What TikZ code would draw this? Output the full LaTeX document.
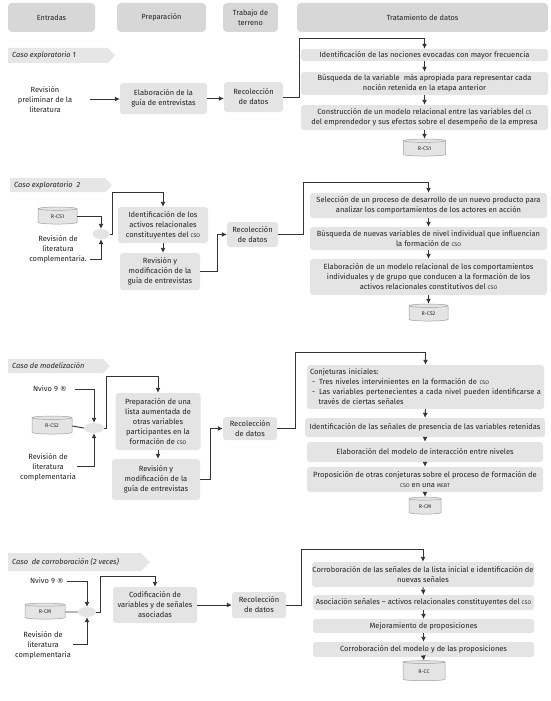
\documentclass[tikz,border=0pt]{standalone}
\usepackage{fontspec}
\setmainfont{Fira Sans}
\newfontfamily\dejavu{DejaVu Sans}
\usetikzlibrary{arrows.meta,shapes.geometric}
\definecolor{boxg}{HTML}{E4E4E4}
\definecolor{hdrg}{HTML}{D7D7D7}
\definecolor{bang}{HTML}{E6E6E6}
\definecolor{txt}{HTML}{222222}
\definecolor{lin}{HTML}{333333}
\definecolor{dbline}{HTML}{A0A0A0}
\newcommand\smc[1]{{\fontsize{5.3}{6}\selectfont\MakeUppercase{#1}}}
\newcommand\regmark{{\dejavu\fontsize{7}{7}\selectfont ®}}
\begin{document}
\begin{tikzpicture}[x=1pt,y=-1pt,
 every node/.style={text=txt, font=\fontsize{7.5}{10}\selectfont},
 sz/.style 2 args={minimum width=#1pt, minimum height=#2pt},
 box/.style={fill=boxg, rounded corners=3pt, align=center, inner sep=0pt},
 hdr/.style={fill=hdrg, rounded corners=4pt, align=center, inner sep=0pt, minimum height=29pt, font=\fontsize{7.4}{9.5}\selectfont},
 lbl/.style={align=center, inner sep=0pt},
 junc/.style={ellipse, fill=boxg, inner sep=0pt, minimum height=10pt},
 db/.style={cylinder, shape border rotate=90, aspect=0.25, draw=dbline, line width=0.5pt, fill=boxg, inner sep=0pt},
 con/.style={draw=lin, line width=0.9pt, -{Latex[length=5pt,width=5pt]}},
 ln/.style={draw=lin, line width=0.9pt},
 bantext/.style={font=\fontsize{7.4}{9}\selectfont\itshape, anchor=west, inner sep=0pt}
]
\useasboundingbox[fill=white] (0,0) rectangle (551,701);

% headers
\node[hdr, minimum width=87pt] (hE) at (51.5,17.5) {Entradas};
\node[hdr, minimum width=89pt] (hP) at (161.5,17.5) {Preparación};
\node[hdr, minimum width=55pt] (hT) at (250.5,17.5) {Trabajo de\\terreno};
\node[hdr, minimum width=251pt] (hD) at (422.5,17.5) {Tratamiento de datos};

% ---------- row 1
\fill[bang] (8,48) -- (108,48) -- (115,55.5) -- (108,63) -- (8,63) -- cycle;
\node[bantext] (b1) at (12,55.5) {Caso exploratorio 1};
\node[lbl] (in1) at (45,100) {Revisión\\preliminar de la\\literatura};
\coordinate (c1) at (90,99);
\node[box, sz={87}{31}] (el1) at (163.5,98.5) {Elaboración de la\\guía de entrevistas};
\node[box, sz={59}{30}] (rc1) at (253.5,97) {Recolección\\de datos};
\node[box, sz={247}{12}] (t11) at (424.5,55) {Identificación de las nociones evocadas con mayor frecuencia};
\node[box, sz={247}{23}] (t12) at (424.5,83.5) {Búsqueda de la variable\ \ más apropiada para representar cada\\noción retenida en la etapa anterior};
\node[box, sz={247}{25}] (t13) at (424.5,117.5) {Construcción de un modelo relacional entre las variables del \smc{cs}\\del emprendedor y sus efectos sobre el desempeño de la empresa};
\node[db, minimum width=42pt, minimum height=17pt] (db1) at (424.5,148.5) {\smc{r-cs1}};
\draw[con] (c1) -- (c1 -| el1.west);
\draw[con] (el1.east) -- (el1.east -| rc1.west);
\draw[con] (rc1.east) -- ++(16,0) |- ([yshift=10pt]t11.north) -- (t11.north);
\draw[con] (t11.south) -- (t12.north);
\draw[con] (t12.south) -- (t13.north);
\draw[con] (t13.south) -- (db1.north);

% ---------- row 2
\fill[bang] (10,178) -- (105,178) -- (112,185) -- (105,192) -- (10,192) -- cycle;
\node[bantext] (b2) at (14,185) {Caso exploratorio\ \ 2};
\node[db, minimum width=39pt, minimum height=17pt] (db2a) at (57.5,216.5) {\smc{r-cs1}};
\node[lbl] (in2) at (58,249) {Revisión de\\literatura\\complementaria.};
\coordinate (c2) at (90,259);
\node[junc, minimum width=17pt] (e2) at (101,234) {};
\node[box, sz={90}{36}] (p21) at (163,225) {Identificación de los\\activos relacionales\\constituyentes del \smc{cso}};
\node[box, sz={80}{37}] (p22) at (160,271.5) {Revisión y\\modificación de la\\guía de entrevistas};
\node[box, sz={51}{25}] (rc2) at (252.5,234.5) {Recolección\\de datos};
\node[box, sz={237}{25}] (t21) at (428.5,205.5) {Selección de un proceso de desarrollo de un nuevo producto para\\analizar los comportamientos de los actores en acción};
\node[box, sz={237}{23}] (t22) at (428.5,238.5) {Búsqueda de nuevas variables de nivel individual que influencian\\la formación de \smc{cso}};
\node[box, sz={237}{36}] (t23) at (428.5,277) {Elaboración de un modelo relacional de los comportamientos\\individuales y de grupo que conducen a la formación de los\\activos relacionales constitutivos del \smc{cso}};
\node[db, minimum width=39pt, minimum height=17pt] (db2) at (428.5,313.5) {\smc{r-cs2}};
\draw[con] (db2a.east) -| (e2.north);
\draw[con] (c2) -| (e2.south);
\draw[con] (e2.east) -- ++(3,0) |- ([yshift=14pt]p21.north) -- (p21.north);
\draw[con] (p21.south) -- (p21.south |- p22.north);
\draw[con] (p22.east) -- ++(17,0) |- (rc2.west);
\draw[con] (rc2.east) -- ++(25,0) |- ([yshift=10pt]t21.north) -- (t21.north);
\draw[con] (t21.south) -- (t22.north);
\draw[con] (t22.south) -- (t23.north);
\draw[con] (t23.south) -- (db2.north);

% ---------- row 3
\fill[bang] (8,359) -- (103,359) -- (110,366) -- (103,373) -- (8,373) -- cycle;
\node[bantext] (b3) at (12,366) {Caso de modelización};
\node[lbl] (nv3) at (50,389) {Nvivo 9 \regmark};
\coordinate (c3a) at (75,389);
\node[db, minimum width=40pt, minimum height=18pt] (db3a) at (52,426) {\smc{r-cs2}};
\node[junc, minimum width=20pt] (e3) at (94,428) {};
\node[lbl] (in3) at (48,467) {Revisión de\\literatura\\complementaria};
\coordinate (c3b) at (77,466);
\node[box, sz={85}{57}] (p31) at (158,421.5) {Preparación de una\\lista aumentada de\\otras variables\\participantes en la\\formación de \smc{cso}};
\node[box, sz={88}{41}] (p32) at (156,479.5) {Revisión y\\modificación de la\\guía de entrevistas};
\node[box, sz={54}{23}] (rc3) at (250,428.5) {Recolección\\de datos};
\node[box, sz={237}{44}, text width=231pt, align=left] (t31) at (425.5,387) {Conjeturas iniciales:\\
\hspace*{2pt}-\hspace{4pt}Tres niveles intervinientes en la formación de \smc{cso}\\
\hspace*{2pt}-\hspace{4pt}Las variables pertenecientes a cada nivel pueden identificarse a\\
\hspace*{8.5pt}través de ciertas señales};
\node[box, sz={240}{19}] (t32) at (425,427.5) {Identificación de las señales de presencia de las variables retenidas};
\node[box, sz={236}{20}] (t33) at (425,452) {Elaboración del modelo de interacción entre niveles};
\node[box, sz={236}{25}] (t34) at (425,479.5) {Proposición de otras conjeturas sobre el proceso de formación de\\\smc{cso} en una \smc{mebt}};
\node[db, minimum width=32pt, minimum height=17pt] (db3) at (425,506.5) {\smc{r-cm}};
\draw[con] (c3a) -| (e3.north);
\draw[ln] (db3a.east) -- (e3.west);
\draw[con] (c3b) -| (e3.south);
\draw[con] (e3.east) -- ++(2,0) |- ([yshift=16pt]p31.north) -- (p31.north);
\draw[con] (p31.south) -- (p31.south |- p32.north);
\draw[con] (p32.east) -- ++(10,0) |- (rc3.west);
\draw[con] (rc3.east) -- ++(18,0) |- ([yshift=12pt]t31.north) -- (t31.north);
\draw[con] (t31.south) -- (t32.north);
\draw[con] (t32.south) -- (t33.north);
\draw[con] (t33.south) -- (t34.north);
\draw[con] (t34.south) -- (db3.north);

% ---------- row 4
\fill[bang] (8,553) -- (141,553) -- (150,562) -- (141,571) -- (8,571) -- cycle;
\node[bantext] (b4) at (12,562) {Caso\ \ de corroboración (2 veces)};
\node[lbl] (nv4) at (47,581) {Nvivo 9 \regmark};
\coordinate (c4a) at (67,581);
\node[db, minimum width=40pt, minimum height=16pt] (db4a) at (45,612) {\smc{r-cm}};
\node[junc, minimum width=18pt] (e4) at (87,612) {};
\node[lbl] (in4) at (43,645) {Revisión de\\literatura\\complementaria};
\coordinate (c4b) at (73,644);
\node[box, sz={84}{36}] (p41) at (155,605) {Codificación de\\variables y de señales\\asociadas};
\node[box, sz={54}{26}] (rc4) at (259,605) {Recolección\\de datos};
\node[box, sz={222}{25}] (t41) at (423,574.5) {Corroboración de las señales de la lista inicial e identificación de\\nuevas señales};
\node[box, sz={221}{15}] (t42) at (423.5,602.5) {Asociación señales – activos relacionales constituyentes del \smc{cso}};
\node[box, sz={221}{14}] (t43) at (423.5,626) {Mejoramiento de proposiciones};
\node[box, sz={221}{15}] (t44) at (423.5,649.5) {Corroboración del modelo y de las proposiciones};
\node[db, minimum width=42pt, minimum height=20pt] (db4) at (424,671.5) {\smc{r-cc}};
\draw[con] (c4a) -| (e4.north);
\draw[ln] (db4a.east) -- (e4.west);
\draw[con] (c4b) -| (e4.south);
\draw[con] (e4.east) -- ++(4,0) |- ([yshift=10pt]p41.north) -- (p41.north);
\draw[con] (p41.east) -- (p41.east -| rc4.west);
\draw[con] (rc4.east) -- ++(15,0) |- ([yshift=12pt]t41.north) -- (t41.north);
\draw[con] (t41.south) -- (t42.north);
\draw[con] (t42.south) -- (t43.north);
\draw[con] (t43.south) -- (t44.north);
\draw[con] (t44.south) -- (db4.north);
\end{tikzpicture}
\end{document}
